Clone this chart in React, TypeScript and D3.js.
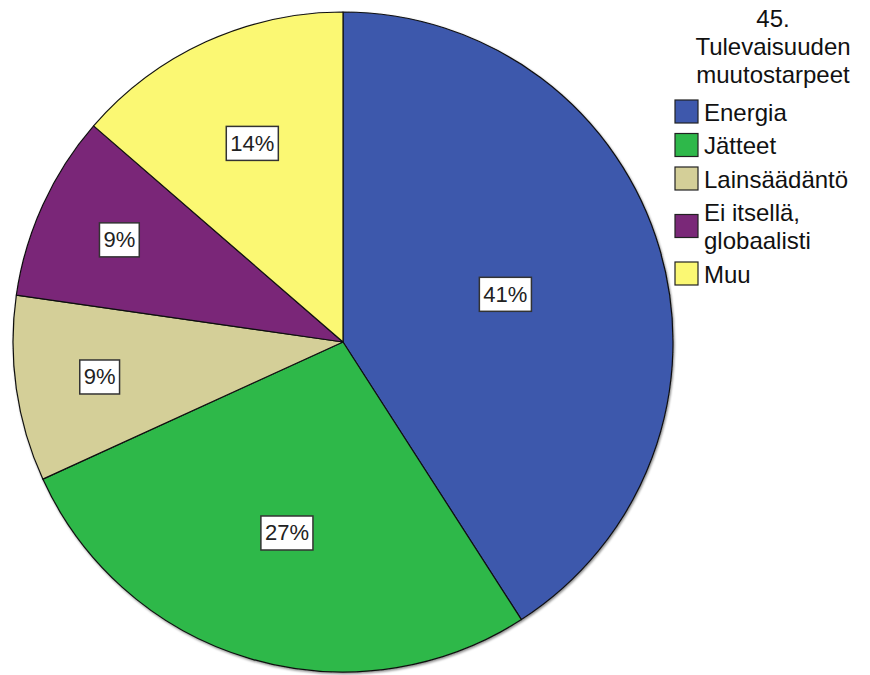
import { useEffect, useRef } from 'react';
import * as d3 from 'd3';

// answers to question 45 (counts, n = 44)
const categories = ['Energia', 'Jätteet', 'Lainsäädäntö', 'Ei itsellä, globaalisti', 'Muu'];
const counts = [18, 12, 4, 4, 6];
const colors = ['#3e58ac', '#2eb84a', '#d4cf98', '#7a2878', '#fbf873'];
const titleLines = ['45.', 'Tulevaisuuden', 'muutostarpeet'];

const W = 870;
const H = 675;
const FONT = '"Liberation Sans", Arial, sans-serif';

function App() {
  const svgRef = useRef<SVGSVGElement>(null);

  useEffect(() => {
    const root = d3.select(svgRef.current);
    root.selectAll('*').remove();

    const cx = 343;
    const cy = 342;
    const R = 330;

    const defs = root.append('defs');
    const filter = defs
      .append('filter')
      .attr('id', 'pieShadow')
      .attr('x', '-5%')
      .attr('y', '-5%')
      .attr('width', '110%')
      .attr('height', '110%');
    filter
      .append('feDropShadow')
      .attr('dx', 1)
      .attr('dy', 1.5)
      .attr('stdDeviation', 1.2)
      .attr('flood-color', '#000')
      .attr('flood-opacity', 0.45);

    const pie = d3
      .pie<number>()
      .sort(null)
      .value(d => d);
    const arcs = pie(counts);
    const total = d3.sum(counts);

    const arc = d3
      .arc<d3.PieArcDatum<number>>()
      .innerRadius(0)
      .outerRadius(R);

    const g = root.append('g').attr('transform', `translate(${cx},${cy})`);

    g.append('g')
      .attr('filter', 'url(#pieShadow)')
      .selectAll('path')
      .data(arcs)
      .enter()
      .append('path')
      .attr('d', arc)
      .attr('fill', (d, i) => colors[i])
      .attr('stroke', '#111')
      .attr('stroke-width', 1.2)
      .attr('stroke-linejoin', 'round');

    // percentage labels in white boxes, near the slice centroid (pushed out on thin slices)
    arcs.forEach(d => {
      const theta = d.endAngle - d.startAngle;
      const half = theta / 2;
      let dist = (2 * R * Math.sin(half)) / (3 * half) + 5;
      if (theta < 0.7) dist = Math.max(dist, 0.745 * R);
      const mid = (d.startAngle + d.endAngle) / 2;
      const x = Math.sin(mid) * dist;
      const y = -Math.cos(mid) * dist;

      const lbl = g.append('g').attr('transform', `translate(${x},${y})`);
      const rect = lbl.append('rect');
      const text = lbl
        .append('text')
        .attr('text-anchor', 'middle')
        .attr('dominant-baseline', 'central')
        .attr('font-family', FONT)
        .attr('font-size', 22)
        .attr('fill', '#222')
        .text(`${Math.round((d.value / total) * 100)}%`);
      const bb = (text.node() as SVGTextElement).getBBox();
      rect
        .attr('x', bb.x - 4)
        .attr('y', -17)
        .attr('width', bb.width + 8)
        .attr('height', 34)
        .attr('fill', '#fff')
        .attr('stroke', '#333')
        .attr('stroke-width', 1.5);
    });

    // title
    const titleX = 773;
    root
      .append('g')
      .selectAll('text')
      .data(titleLines)
      .enter()
      .append('text')
      .attr('x', titleX)
      .attr('y', (d, i) => 27 + i * 28)
      .attr('text-anchor', 'middle')
      .attr('font-family', FONT)
      .attr('font-size', 24)
      .attr('fill', '#111')
      .text(d => d);

    // legend
    const legend = root.append('g');
    const sw = 23;
    const lineH = 27.8;
    let top = 100;
    categories.forEach((cat, i) => {
      const lines = cat.includes(', ')
        ? cat.split(', ').map((s, k, a) => (k < a.length - 1 ? s + ',' : s))
        : [cat];
      const extra = (lines.length - 1) * 28;
      const swY = top + extra / 2;
      const center = swY + sw / 2;
      legend
        .append('rect')
        .attr('x', 675)
        .attr('y', swY)
        .attr('width', sw)
        .attr('height', sw)
        .attr('fill', colors[i])
        .attr('stroke', '#222')
        .attr('stroke-width', 1.2);
      const first = center + 9 - ((lines.length - 1) * lineH) / 2;
      lines.forEach((ln, k) => {
        legend
          .append('text')
          .attr('x', 704)
          .attr('y', first + k * lineH)
          .attr('font-family', FONT)
          .attr('font-size', 24)
          .attr('fill', '#111')
          .text(ln);
      });
      top += 33.5 + extra;
    });
  }, []);

  return (
    <svg
      ref={svgRef}
      width={W}
      height={H}
      style={{ position: 'absolute', left: 0, top: 0, background: '#fff' }}
    />
  );
}

export default App;
